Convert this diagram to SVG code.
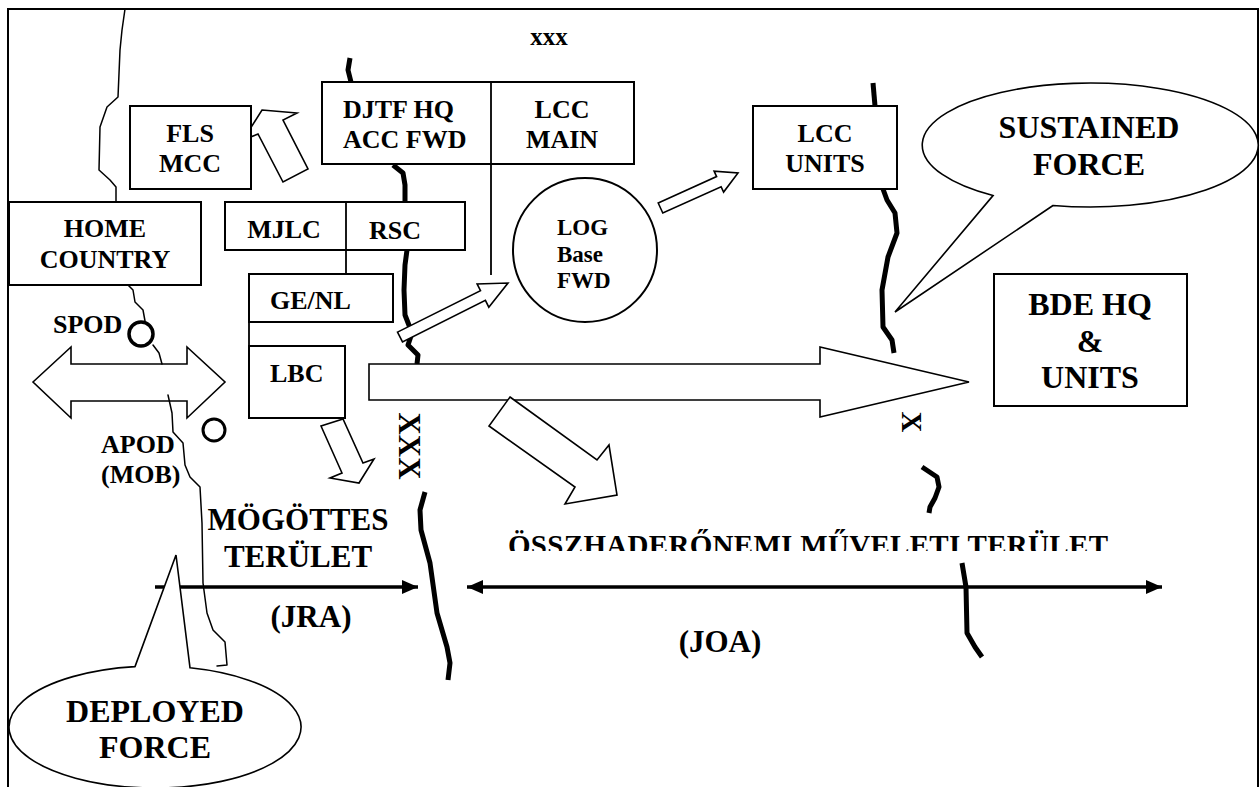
<svg xmlns="http://www.w3.org/2000/svg" width="1260" height="787" viewBox="0 0 1260 787" font-family="'Liberation Serif', serif" font-weight="bold">
<defs>
<style>
.box{fill:#fff;stroke:#000;stroke-width:2}
.hol{fill:#fff;stroke:#000;stroke-width:1.6;stroke-linejoin:miter}
.thin{fill:none;stroke:#000;stroke-width:1.5;stroke-linejoin:round;stroke-linecap:round}
.thick{fill:none;stroke:#000;stroke-width:5;stroke-linejoin:round;stroke-linecap:butt}
.ln{fill:none;stroke:#000;stroke-width:1.8}
.axis{fill:none;stroke:#000;stroke-width:3.5}
text{font-family:'Liberation Serif',serif;font-weight:bold;fill:#000}
.t26{font-size:26px}
.t23{font-size:23px}
.t32{font-size:32px}
.t31{font-size:31px}
.m{text-anchor:middle}
</style>
<marker id="ah" viewBox="0 0 16 14" refX="16" refY="7" markerWidth="16" markerHeight="14" markerUnits="userSpaceOnUse" orient="auto-start-reverse">
<path d="M0,0 L16,7 L0,14 Z" fill="#000"/>
</marker>
<clipPath id="clipJoa"><rect x="480" y="500" width="700" height="51"/></clipPath>
</defs>
<rect x="8" y="9" width="1250" height="800" fill="#fff" stroke="#000" stroke-width="2"/>

<g id="boundaries">
<polyline class="thin" points="125,9 122,30 120,50 118,97 107,107 100,127 99,170 110,180 116,187 116,202"/>
<polyline class="thin" points="127,284 133,290 135,302 143,310 145,321"/>
<polyline class="thick" points="350,58 348,70 351,82"/>
<polyline class="thick" points="393,165 403,173 405,185 405,202"/>
<polyline class="thick" points="407,250 405,265 404,290 405,315 412,333 408,345 418,355 417,364"/>
<polyline class="thick" points="425,492 420,510 421,530 430,563 437,613 447,647 450,663 448,680"/>
<polyline class="thick" points="873,83 875,106"/>
<polyline class="thick" points="883,189 887,200 895,213 897,233 888,257 882,290 883,327 892,340 894,353"/>
<polyline class="thick" points="922,467 937,477 939,487 935,498 930,507 929,513"/>
<polyline class="thick" points="962,563 966,587 967,633 975,647 982,657"/>
</g>

<g id="connectors">
<line class="ln" x1="491" y1="82" x2="491" y2="275"/>
<line class="ln" x1="346" y1="202" x2="346" y2="274"/>
<line class="ln" x1="249" y1="322" x2="249" y2="346"/>
<polygon id="arrow-fls" class="hol" points="262,110 297,113 283,120 308,169 283,182 258,134 243,140"/>
<polygon id="arrow-log" class="hol" points="397.5,332.1 480.5,290.6 477.1,283.9 508,283 488.8,307.2 485.4,300.4 402.5,341.9"/>
<polygon id="arrow-lccunits" class="hol" points="658.2,203 716.6,176.6 714.1,171.2 738,173 723.6,192.1 721.1,186.7 662.8,213"/>
<polygon id="arrow-lbc" class="hol" points="321,426 342,473 330,478 359,483 374,459 363,463 343,419"/>
<polygon id="arrow-main" class="hol" points="369,364 820,364 820,347 969,382 820,417 820,400 369,400"/>
<polygon id="arrow-joa" class="hol" points="510,397 597,460 609,445 617,495 565,504 575,487 489,426"/>
<polygon id="arrow-double" class="hol" points="33,382 71,347 71,364 187,364 187,347 225,382 187,418 187,401 71,401 71,418"/>
<polyline class="thin" points="153,345 159,353 162,364"/>
<polyline class="thin" points="168,395 172,413 173,432 183,443 185,465 190,477 200,487 202,523 203,583 207,613 213,630 225,642 227,665 217,666"/>
<line class="axis" x1="155" y1="587" x2="418" y2="587" marker-end="url(#ah)"/>
<line class="axis" x1="467" y1="587" x2="1162" y2="587" marker-start="url(#ah)" marker-end="url(#ah)"/>
</g>

<g id="xxx-top"><text x="549" y="45" class="m" font-size="25">xxx</text></g>

<g id="fls-mcc">
<rect class="box" x="130" y="106" width="121" height="83"/>
<text class="t26 m" x="190" y="142">FLS</text>
<text class="t26 m" x="190" y="172">MCC</text>
</g>

<g id="djtf-lcc">
<rect class="box" x="322" y="82" width="312" height="82"/>
<line class="ln" x1="491" y1="82" x2="491" y2="164"/>
<text class="t26" x="343" y="118">DJTF HQ</text>
<text class="t26" x="343" y="148">ACC FWD</text>
<text class="t26 m" x="562" y="118">LCC</text>
<text class="t26 m" x="562" y="148">MAIN</text>
</g>

<g id="home-country">
<rect class="box" x="9" y="202" width="192" height="83"/>
<text class="t26 m" x="105" y="237">HOME</text>
<text class="t26 m" x="105" y="268">COUNTRY</text>
</g>

<g id="mjlc-rsc">
<rect class="box" x="225" y="202" width="240" height="48"/>
<line class="ln" x1="346" y1="202" x2="346" y2="250"/>
<text class="t26 m" x="284" y="238">MJLC</text>
<text class="t26 m" x="395" y="239">RSC</text>
</g>

<g id="ge-nl">
<rect class="box" x="249" y="274" width="144" height="48"/>
<text class="t26" x="270" y="309">GE/NL</text>
</g>

<g id="lbc">
<rect class="box" x="249" y="346" width="96" height="72"/>
<text class="t26" x="270" y="382">LBC</text>
</g>

<g id="spod">
<circle cx="141" cy="334" r="12" fill="none" stroke="#000" stroke-width="3.5"/>
<text class="t26" x="53" y="333">SPOD</text>
</g>

<g id="apod">
<circle cx="214" cy="430" r="11" fill="none" stroke="#000" stroke-width="3"/>
<text class="t26" x="101" y="453">APOD</text>
<text class="t26" x="101" y="483">(MOB)</text>
</g>

<g id="log-base">
<circle cx="585" cy="250" r="72" fill="#fff" stroke="#000" stroke-width="2"/>
<text class="t23" x="557" y="235">LOG</text>
<text class="t23" x="557" y="262">Base</text>
<text class="t23" x="557" y="288">FWD</text>
</g>

<g id="lcc-units">
<rect class="box" x="753" y="106" width="144" height="83"/>
<text class="t26 m" x="825" y="142">LCC</text>
<text class="t26 m" x="825" y="172">UNITS</text>
</g>

<g id="sustained-force">
<path d="M1053,205.5 L895,312 L993,195.6 A168,62 0 1 1 1053,205.5 Z" fill="#fff" stroke="#000" stroke-width="1.6"/>
<text class="t32 m" x="1089" y="138">SUSTAINED</text>
<text class="t32 m" x="1089" y="175">FORCE</text>
</g>

<g id="bde-hq">
<rect class="box" x="994" y="274" width="193" height="132"/>
<text class="t32 m" x="1090" y="315">BDE HQ</text>
<text class="t32 m" x="1090" y="352">&amp;</text>
<text class="t32 m" x="1090" y="388">UNITS</text>
</g>

<g id="xxx-boundary"><text class="t31 m" transform="translate(409,446) rotate(90)" x="0" y="10">XXX</text></g>
<g id="x-boundary"><text class="m" font-size="29" transform="translate(912,422) rotate(90)" x="0" y="10">X</text></g>

<g id="jra">
<text class="t31 m" x="298" y="530">MÖGÖTTES</text>
<text class="t31 m" x="298" y="567">TERÜLET</text>
<text class="t31 m" x="311" y="627">(JRA)</text>
</g>

<g id="joa">
<text x="508" y="555" font-size="29" textLength="600" lengthAdjust="spacing" clip-path="url(#clipJoa)">ÖSSZHADERŐNEMI MŰVELETI TERÜLET</text>
<text class="t31 m" x="720" y="652">(JOA)</text>
</g>

<g id="deployed-force">
<path d="M135,666.6 L176,555 L190,667.8 A146,61 0 1 1 135,666.6 Z" fill="#fff" stroke="#000" stroke-width="1.6"/>
<text class="t32 m" x="155" y="722">DEPLOYED</text>
<text class="t32 m" x="155" y="758">FORCE</text>
</g>
</svg>
